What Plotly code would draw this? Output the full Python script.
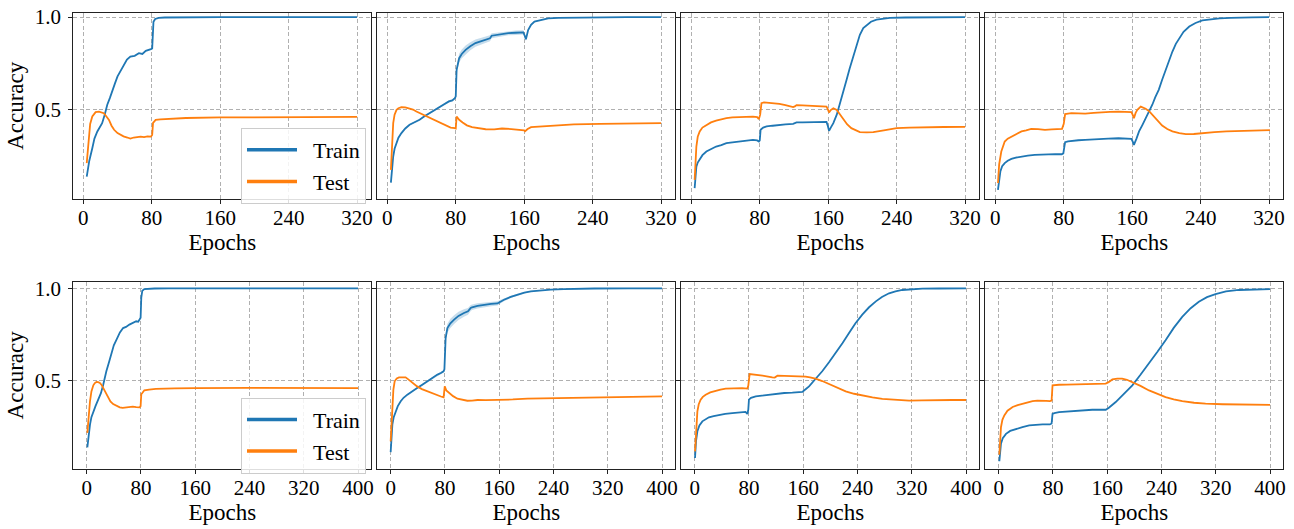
import plotly.graph_objects as go

# ---------------- data ----------------
# Top row (320 epochs)
t1_train_ep = [4, 7, 10.5, 13, 16.4, 19, 22, 25, 28, 31, 34, 37, 40, 44, 47.6, 51, 55, 60, 65, 69, 73, 76, 79, 80.5, 82, 84, 88, 95, 110, 160, 240, 320]
t1_train = [0.134, 0.22, 0.288, 0.34, 0.379, 0.40, 0.424, 0.47, 0.524, 0.56, 0.605, 0.64, 0.678, 0.71, 0.741, 0.77, 0.786, 0.79, 0.804, 0.80, 0.817, 0.82, 0.826, 0.83, 0.975, 0.99, 0.996, 0.998, 0.999, 1.0, 1.0, 1.0]
t1_test_ep = [4, 6.6, 8, 10.5, 14.4, 18.3, 21, 24, 27, 30, 33, 36, 40, 43.7, 47, 51.5, 55, 59, 63, 67, 71, 75, 79, 80.5, 81.5, 84.6, 90, 100, 120, 160, 240, 320]
t1_test = [0.207, 0.379, 0.42, 0.46, 0.484, 0.487, 0.483, 0.478, 0.46, 0.442, 0.41, 0.388, 0.37, 0.36, 0.352, 0.346, 0.34, 0.346, 0.35, 0.351, 0.348, 0.352, 0.351, 0.36, 0.425, 0.442, 0.445, 0.448, 0.452, 0.455, 0.457, 0.458]

t2_train_ep = [4.2, 5.5, 6.9, 8.5, 10.8, 13, 16.5, 21, 26, 32, 37.7, 43, 49, 55, 61, 66, 72, 76, 79, 80, 81, 82.5, 84, 87, 91.5, 97, 103, 110, 118, 120, 122, 130, 141.5, 150, 159, 160.5, 162, 164.6, 168, 172, 180, 188, 200, 230, 280, 320]
t2_train = [0.101, 0.18, 0.243, 0.285, 0.315, 0.345, 0.37, 0.395, 0.415, 0.43, 0.442, 0.46, 0.478, 0.495, 0.514, 0.525, 0.542, 0.548, 0.56, 0.57, 0.714, 0.75, 0.777, 0.80, 0.822, 0.842, 0.859, 0.87, 0.88, 0.885, 0.899, 0.905, 0.913, 0.915, 0.917, 0.90, 0.88, 0.93, 0.958, 0.976, 0.986, 0.993, 0.996, 0.999, 1.0, 1.0]
t2_train_std = [0.004, 0.004, 0.004, 0.004, 0.004, 0.004, 0.004, 0.004, 0.004, 0.004, 0.004, 0.005, 0.005, 0.005, 0.005, 0.005, 0.006, 0.006, 0.006, 0.008, 0.02, 0.022, 0.024, 0.024, 0.024, 0.022, 0.02, 0.018, 0.016, 0.016, 0.014, 0.013, 0.012, 0.012, 0.012, 0.01, 0.01, 0.006, 0.004, 0.003, 0.002, 0.001, 0.001, 0.0, 0.0, 0.0]
t2_test_ep = [4.2, 5.5, 6.9, 8.5, 10.8, 13, 16.5, 21, 26, 30, 34, 40, 45, 51, 57, 63, 68.5, 74, 79, 80, 81, 84, 88, 93, 99, 107, 115, 125, 134, 145, 157, 160, 161, 164, 168, 178, 188, 200, 218, 249, 288, 320]
t2_test = [0.17, 0.33, 0.424, 0.47, 0.496, 0.505, 0.511, 0.51, 0.505, 0.498, 0.487, 0.474, 0.46, 0.447, 0.433, 0.42, 0.409, 0.40, 0.397, 0.395, 0.46, 0.442, 0.428, 0.412, 0.402, 0.395, 0.391, 0.39, 0.395, 0.392, 0.388, 0.385, 0.38, 0.392, 0.402, 0.405, 0.409, 0.412, 0.417, 0.42, 0.424, 0.424]

t3_train_ep = [3.9, 5.9, 7.5, 9.8, 13, 17.6, 23, 29, 35, 41, 48, 56.6, 64, 72, 77, 79, 80, 81, 84, 88, 95, 103, 110, 119, 121, 123, 130, 138.5, 148, 158, 159.5, 161, 163, 166, 170, 174, 178, 181.5, 185, 189, 193, 197, 201, 205, 210, 216.5, 224, 232, 250, 280, 320]
t3_train = [0.071, 0.188, 0.21, 0.225, 0.25, 0.27, 0.285, 0.297, 0.305, 0.315, 0.32, 0.324, 0.328, 0.333, 0.33, 0.324, 0.33, 0.388, 0.40, 0.406, 0.41, 0.415, 0.417, 0.42, 0.425, 0.428, 0.428, 0.429, 0.43, 0.431, 0.41, 0.382, 0.40, 0.424, 0.47, 0.533, 0.595, 0.66, 0.72, 0.786, 0.85, 0.904, 0.94, 0.958, 0.975, 0.986, 0.992, 0.996, 0.998, 1.0, 1.0]
t3_test_ep = [3.9, 5.9, 7.5, 9.8, 13, 17.6, 23, 29, 35, 41, 48, 56.6, 64, 72, 77, 79, 80.5, 82, 85, 88, 95, 103, 110, 119, 121, 123, 130, 138.5, 148, 158, 159.5, 161, 163, 166, 170, 174, 177.6, 182, 187, 192, 197, 205, 212.7, 225, 240, 255, 271, 295, 320]
t3_test = [0.116, 0.297, 0.35, 0.379, 0.40, 0.415, 0.428, 0.438, 0.445, 0.451, 0.455, 0.457, 0.458, 0.46, 0.457, 0.446, 0.47, 0.533, 0.537, 0.536, 0.533, 0.529, 0.522, 0.511, 0.515, 0.522, 0.521, 0.52, 0.518, 0.514, 0.50, 0.482, 0.495, 0.505, 0.496, 0.47, 0.442, 0.418, 0.397, 0.385, 0.375, 0.374, 0.375, 0.385, 0.397, 0.40, 0.402, 0.403, 0.404]

t4_train_ep = [3.1, 4.5, 5.9, 8, 11, 14.5, 18.8, 24, 30.6, 38, 46, 54, 62, 70, 77.6, 79.5, 80.5, 81.6, 85, 89, 97, 105, 113, 121, 132, 144, 152, 159, 160.5, 162, 165, 168, 172, 176, 180, 183.5, 187, 191, 195, 199, 203, 207, 211, 215, 220, 226.7, 234, 242, 252, 262, 275, 285.5, 300, 320]
t4_train = [0.062, 0.12, 0.161, 0.19, 0.207, 0.22, 0.23, 0.237, 0.243, 0.248, 0.252, 0.254, 0.255, 0.256, 0.255, 0.26, 0.29, 0.321, 0.325, 0.328, 0.331, 0.333, 0.336, 0.339, 0.34, 0.342, 0.341, 0.339, 0.325, 0.306, 0.34, 0.379, 0.415, 0.451, 0.49, 0.524, 0.565, 0.605, 0.66, 0.714, 0.765, 0.813, 0.855, 0.886, 0.92, 0.949, 0.968, 0.982, 0.988, 0.993, 0.996, 0.998, 0.999, 1.0]
t4_test_ep = [3.1, 4.5, 7, 9, 11, 14.5, 18.8, 24, 30.6, 36, 42, 50, 58, 66, 73.7, 78, 80, 81.6, 85, 89, 97, 105, 115, 124.7, 134, 144, 152, 159, 160.5, 162, 164, 166, 170, 175.7, 180, 183.5, 189, 195, 201, 207, 215, 222.7, 232, 242, 256, 270, 285, 301, 321]
t4_test = [0.098, 0.2, 0.27, 0.30, 0.324, 0.34, 0.351, 0.365, 0.379, 0.385, 0.393, 0.392, 0.388, 0.39, 0.393, 0.393, 0.42, 0.473, 0.476, 0.478, 0.477, 0.476, 0.48, 0.484, 0.485, 0.487, 0.486, 0.484, 0.47, 0.451, 0.48, 0.496, 0.514, 0.502, 0.488, 0.469, 0.44, 0.411, 0.392, 0.379, 0.37, 0.364, 0.365, 0.37, 0.375, 0.379, 0.382, 0.384, 0.386]

# Bottom row (400 epochs)
b1_train_ep = [1, 3, 4.9, 7, 9.8, 13, 17, 21, 24.4, 27, 29, 33, 36.6, 40, 44, 49, 53.7, 58, 63, 68, 73, 76, 78, 79.5, 80.5, 82, 85, 90, 100, 120, 200, 300, 400]
b1_train = [0.136, 0.21, 0.259, 0.30, 0.331, 0.36, 0.395, 0.43, 0.476, 0.52, 0.549, 0.60, 0.649, 0.69, 0.721, 0.76, 0.784, 0.79, 0.803, 0.81, 0.821, 0.818, 0.83, 0.84, 0.95, 0.987, 0.996, 0.998, 0.999, 1.0, 1.0, 1.0, 1.0]
b1_test_ep = [1, 3, 4.9, 7, 9.8, 12, 14.6, 17, 19.5, 22, 24.4, 28, 31.7, 35, 39, 44, 48.8, 53, 58.5, 63, 68, 73, 78, 79.5, 80.5, 82, 85, 92, 102, 130, 160, 240, 320, 400]
b1_test = [0.214, 0.32, 0.386, 0.44, 0.473, 0.485, 0.491, 0.49, 0.486, 0.475, 0.458, 0.43, 0.404, 0.385, 0.371, 0.36, 0.353, 0.35, 0.353, 0.355, 0.357, 0.354, 0.353, 0.36, 0.425, 0.431, 0.446, 0.45, 0.453, 0.456, 0.458, 0.459, 0.459, 0.458]

b2_train_ep = [0, 1.2, 2.5, 4.5, 7.4, 10.5, 14.8, 19, 24.6, 31, 39, 46, 54, 61, 69, 74, 78, 79.2, 80, 81, 83.6, 88, 93.5, 100, 108, 114, 118, 120, 128, 138, 148, 157.4, 162, 167, 177, 187, 197, 206.6, 220, 236, 255, 275.5, 300, 350, 400]
b2_train = [0.11, 0.19, 0.259, 0.30, 0.331, 0.36, 0.386, 0.405, 0.422, 0.44, 0.458, 0.475, 0.495, 0.512, 0.531, 0.54, 0.549, 0.56, 0.62, 0.73, 0.784, 0.81, 0.83, 0.85, 0.866, 0.875, 0.893, 0.897, 0.905, 0.911, 0.915, 0.918, 0.928, 0.938, 0.953, 0.966, 0.976, 0.984, 0.989, 0.993, 0.996, 0.998, 0.999, 1.0, 1.0]
b2_train_std = [0.004, 0.004, 0.004, 0.004, 0.004, 0.004, 0.004, 0.004, 0.004, 0.004, 0.005, 0.005, 0.005, 0.005, 0.006, 0.006, 0.006, 0.008, 0.012, 0.02, 0.024, 0.025, 0.024, 0.022, 0.02, 0.018, 0.016, 0.015, 0.014, 0.013, 0.012, 0.012, 0.01, 0.008, 0.006, 0.005, 0.004, 0.003, 0.002, 0.001, 0.001, 0.0, 0.0, 0.0, 0.0]
b2_test_ep = [0, 1.2, 2.5, 4, 5.9, 9, 12.3, 17, 22, 26, 29.5, 34, 39, 46, 54, 61, 69, 74, 78, 79.7, 82, 86, 92, 98.4, 106, 113, 120, 128, 140, 157.4, 180, 201.7, 225, 251, 290, 324.7, 360, 400]
b2_test = [0.168, 0.28, 0.368, 0.45, 0.495, 0.51, 0.516, 0.518, 0.516, 0.505, 0.495, 0.48, 0.467, 0.452, 0.44, 0.428, 0.418, 0.412, 0.408, 0.467, 0.445, 0.431, 0.414, 0.40, 0.393, 0.389, 0.39, 0.393, 0.392, 0.393, 0.396, 0.40, 0.402, 0.404, 0.406, 0.409, 0.411, 0.413]

b3_train_ep = [0.5, 2, 4, 7, 11.3, 16, 21, 28, 36, 45, 55.5, 65, 75, 77.6, 79, 80, 83, 90, 100, 114.5, 118, 122, 132, 144, 152, 158.7, 163, 168.6, 178, 188, 198, 208, 218, 227.5, 237, 247, 257, 267, 276, 286.5, 296, 306, 320, 335.6, 360, 400]
b3_train = [0.078, 0.17, 0.223, 0.255, 0.277, 0.29, 0.299, 0.306, 0.313, 0.318, 0.322, 0.325, 0.328, 0.317, 0.34, 0.395, 0.405, 0.413, 0.417, 0.422, 0.424, 0.429, 0.431, 0.433, 0.435, 0.437, 0.45, 0.467, 0.507, 0.549, 0.598, 0.649, 0.703, 0.757, 0.81, 0.857, 0.897, 0.929, 0.953, 0.973, 0.984, 0.991, 0.995, 0.998, 0.999, 1.0]
b3_test_ep = [0.5, 2, 4, 6, 8.8, 12, 16.2, 23, 31, 38, 45.7, 53, 60.4, 70, 77.6, 79, 81, 85, 90, 100, 114.5, 118, 122, 132, 144, 155, 163.6, 170, 178, 188, 198, 210, 222.6, 235, 247, 262, 276.6, 295, 316, 335, 355, 380, 400]
b3_test = [0.114, 0.24, 0.331, 0.37, 0.395, 0.41, 0.422, 0.434, 0.444, 0.45, 0.455, 0.457, 0.458, 0.458, 0.455, 0.47, 0.534, 0.533, 0.531, 0.526, 0.516, 0.515, 0.525, 0.524, 0.524, 0.522, 0.52, 0.516, 0.509, 0.496, 0.48, 0.46, 0.44, 0.427, 0.417, 0.407, 0.399, 0.393, 0.39, 0.391, 0.393, 0.393, 0.393]

b4_train_ep = [1, 2, 3.4, 6, 10.8, 17, 25.5, 35, 45, 55, 64.7, 75.5, 78, 79.4, 82, 89, 100, 118.6, 138, 157.8, 162, 172.5, 185, 197, 209, 221.6, 234, 246, 258, 270.6, 283, 295, 307, 319.6, 335, 354, 375, 400]
b4_train = [0.06, 0.11, 0.155, 0.185, 0.209, 0.225, 0.236, 0.246, 0.255, 0.258, 0.26, 0.26, 0.265, 0.318, 0.322, 0.327, 0.33, 0.336, 0.34, 0.34, 0.35, 0.382, 0.426, 0.473, 0.53, 0.591, 0.655, 0.718, 0.785, 0.845, 0.892, 0.927, 0.952, 0.969, 0.983, 0.991, 0.994, 0.996]
b4_test_ep = [1, 2, 3.4, 5.5, 8.3, 13, 20.6, 28, 35.3, 42, 50, 57, 64.7, 70, 75.5, 78, 79.4, 82, 89, 100, 118.6, 138, 157.8, 162, 167.6, 175, 182, 189, 197, 209, 221.6, 234, 246, 258, 270.6, 288, 305, 330, 354, 380, 400]
b4_test = [0.096, 0.18, 0.245, 0.285, 0.309, 0.335, 0.355, 0.365, 0.373, 0.38, 0.387, 0.39, 0.391, 0.388, 0.387, 0.39, 0.473, 0.474, 0.476, 0.477, 0.478, 0.48, 0.482, 0.49, 0.505, 0.509, 0.509, 0.503, 0.491, 0.47, 0.445, 0.425, 0.409, 0.397, 0.387, 0.378, 0.373, 0.37, 0.369, 0.368, 0.367]

top_ticks = [0, 80, 160, 240, 320]
bottom_ticks = [0, 80, 160, 240, 320, 400]
y_ticks = [0.5, 1.0]
y_tick_labels = ["0.5", "1.0"]
series_names = ["Train", "Test"]

panels = [
    (t1_train_ep, t1_train, None, t1_test_ep, t1_test),
    (t2_train_ep, t2_train, t2_train_std, t2_test_ep, t2_test),
    (t3_train_ep, t3_train, None, t3_test_ep, t3_test),
    (t4_train_ep, t4_train, None, t4_test_ep, t4_test),
    (b1_train_ep, b1_train, None, b1_test_ep, b1_test),
    (b2_train_ep, b2_train, b2_train_std, b2_test_ep, b2_test),
    (b3_train_ep, b3_train, None, b3_test_ep, b3_test),
    (b4_train_ep, b4_train, None, b4_test_ep, b4_test),
]

# ---------------- styling ----------------
W, H = 1294, 529
BLUE = "#1f77b4"
ORANGE = "#ff7f0e"
FONT = "Liberation Serif"
col_left = [73.3, 377.3, 681.3, 985.3]
col_w = 298.0
row_px = [(12.7, 199.0), (281.7, 469.0)]
x_ranges = [[-11.7, 336.6], [-19.7, 419.5]]
y_ranges = [[0.012, 1.024], [0.018, 1.036]]

fig = go.Figure()
layout = dict(
    width=W, height=H,
    margin=dict(l=0, r=0, t=0, b=0, autoexpand=False),
    paper_bgcolor="white", plot_bgcolor="white",
    font=dict(family=FONT, size=21, color="black"),
    showlegend=True,
)

for k, (tr_ep, tr, tr_std, te_ep, te) in enumerate(panels):
    row, col = divmod(k, 4)
    ax = "" if k == 0 else str(k + 1)
    xa, ya = "x" + ax, "y" + ax
    if tr_std is not None:
        lo = [v - s for v, s in zip(tr, tr_std)]
        hi = [v + s for v, s in zip(tr, tr_std)]
        fig.add_trace(go.Scatter(x=tr_ep, y=lo, mode="lines", line=dict(width=0, color=BLUE),
                                 showlegend=False, hoverinfo="skip", xaxis=xa, yaxis=ya))
        fig.add_trace(go.Scatter(x=tr_ep, y=hi, mode="lines", line=dict(width=0, color=BLUE),
                                 fill="tonexty", fillcolor="rgba(31,119,180,0.25)",
                                 showlegend=False, hoverinfo="skip", xaxis=xa, yaxis=ya))
    fig.add_trace(go.Scatter(x=tr_ep, y=tr, mode="lines", line=dict(color=BLUE, width=1.8),
                             showlegend=False, xaxis=xa, yaxis=ya, name=series_names[0]))
    fig.add_trace(go.Scatter(x=te_ep, y=te, mode="lines", line=dict(color=ORANGE, width=1.8),
                             showlegend=False, xaxis=xa, yaxis=ya, name=series_names[1]))

    x0 = col_left[col] / W
    x1 = (col_left[col] + col_w) / W
    ytop, ybot = row_px[row]
    y0 = (H - ybot) / H
    y1 = (H - ytop) / H
    common = dict(
        showline=True, mirror=True, linecolor="#222222", linewidth=1,
        ticks="outside", ticklen=4, tickcolor="#222222", tickwidth=1,
        showgrid=True, gridcolor="#b0b0b0", gridwidth=1, griddash="4px,2.5px",
        zeroline=False, automargin=False,
        tickfont=dict(family=FONT, size=21, color="black"),
    )
    layout["xaxis" + ax] = dict(
        common, domain=[x0, x1], anchor=ya, range=x_ranges[row],
        tickmode="array", tickvals=top_ticks if row == 0 else bottom_ticks,
        ticklabelstandoff=-4,
        title=dict(text="Epochs", font=dict(family=FONT, size=23), standoff=2),
    )
    layout["yaxis" + ax] = dict(
        common, domain=[y0, y1], anchor=xa, range=y_ranges[row],
        tickmode="array", tickvals=y_ticks, ticktext=y_tick_labels,
        showticklabels=(col == 0), ticklabelstandoff=3,
        title=dict(text="Accuracy" if col == 0 else "", font=dict(family=FONT, size=23), standoff=4),
    )

# legend entries (thicker lines, as in the reference legend)
for lg, ax in (("legend", ""), ("legend2", "5")):
    for name, color in zip(series_names, (BLUE, ORANGE)):
        fig.add_trace(go.Scatter(x=[None], y=[None], mode="lines", name="\u00a0\u00a0" + name,
                                 line=dict(color=color, width=3.5), legend=lg,
                                 xaxis="x" + ax, yaxis="y" + ax))

leg_common = dict(
    bgcolor="rgba(255,255,255,0.85)", bordercolor="#cccccc", borderwidth=1,
    font=dict(family=FONT, size=22, color="black"), xanchor="left", yanchor="top",
    itemwidth=50, tracegroupgap=0, traceorder="normal",
)
layout["legend"] = dict(leg_common, x=241 / W, y=1 - 128 / H)
layout["legend2"] = dict(leg_common, x=241 / W, y=1 - 397.7 / H)

fig.update_layout(**layout)
fig.write_html("out.html", config={"displayModeBar": False},
               post_script="document.body.style.margin='0';document.body.style.overflow='hidden';")
